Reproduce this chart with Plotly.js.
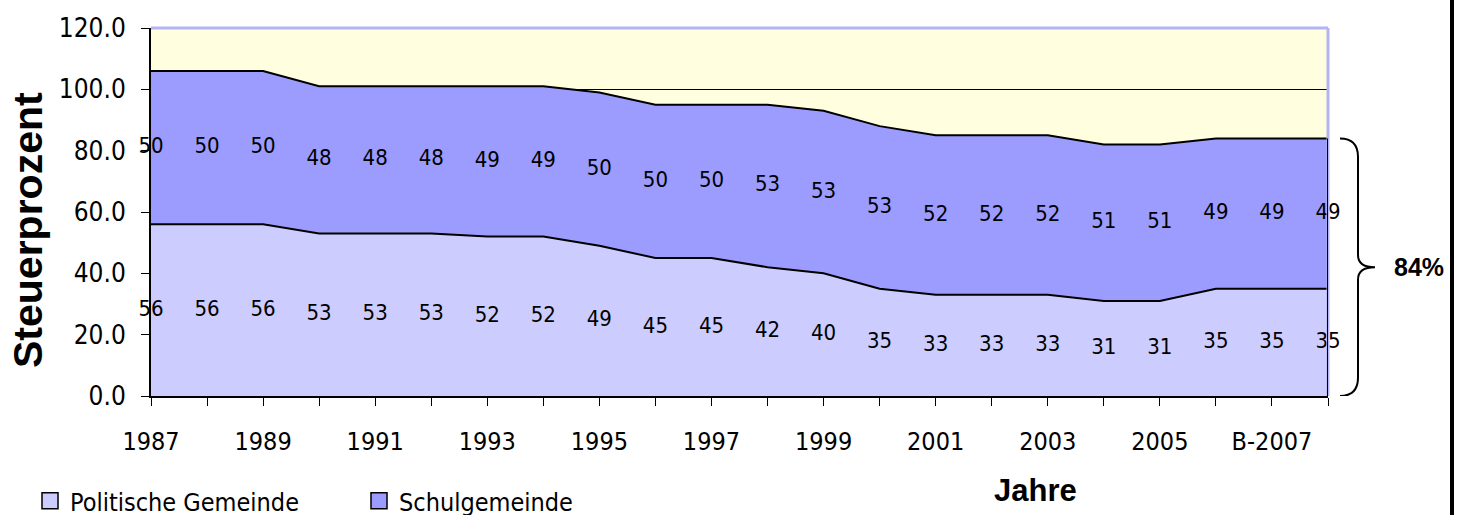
<!DOCTYPE html>
<html>
<head>
<meta charset="utf-8">
<script src="https://cdn.plot.ly/plotly-3.0.1.min.js"></script>
<style>html,body{margin:0;padding:0;background:#fff;}#chart{width:1461px;height:515px;}</style>
</head>
<body>
<div id="chart"></div>
<script>
const categories = ["1987","1988","1989","1990","1991","1992","1993","1994","1995","1996","1997","1998","1999","2000","2001","2002","2003","2004","2005","2006","B-2007","B-2008"];
const tickLabels = ["1987","","1989","","1991","","1993","","1995","","1997","","1999","","2001","","2003","","2005","","B-2007",""];
const politischeGemeinde = [56,56,56,53,53,53,52,52,49,45,45,42,40,35,33,33,33,31,31,35,35,35];
const schulgemeinde = [50,50,50,48,48,48,49,49,50,50,50,53,53,53,52,52,52,51,51,49,49,49];

const NARROW = '"Liberation Sans Narrow", "Arial Narrow", "DejaVu Sans Condensed", sans-serif';
const BOLD = '"Liberation Sans", Arial, sans-serif';

const totals = politischeGemeinde.map((v,i)=>v+schulgemeinde[i]);
const midPol = politischeGemeinde.map(v=>v/2);
const midSchul = politischeGemeinde.map((v,i)=>v+schulgemeinde[i]/2);
const lastIdx = categories.length-1;
const lastTotal = totals[lastIdx];
const COL_POL = '#CCCCFF', COL_SCHUL = '#9C9CFF';

const traces = [
  {x:categories, y:politischeGemeinde, name:'Politische Gemeinde', type:'scatter', mode:'lines',
   stackgroup:'one', fillcolor:COL_POL, line:{color:'#000', width:2, shape:'linear'}, hoverinfo:'skip', showlegend:false},
  {x:categories, y:schulgemeinde, name:'Schulgemeinde', type:'scatter', mode:'lines',
   stackgroup:'one', fillcolor:COL_SCHUL, line:{color:'#000', width:2, shape:'linear'}, hoverinfo:'skip', showlegend:false},
  {x:categories, y:midPol, text:politischeGemeinde.map(String), mode:'text', type:'scatter',
   textfont:{family:NARROW, size:22, color:'#000'}, textposition:'middle center', showlegend:false, cliponaxis:false, hoverinfo:'skip'},
  {x:categories, y:midSchul, text:schulgemeinde.map(String), mode:'text', type:'scatter',
   textfont:{family:NARROW, size:22, color:'#000'}, textposition:'middle center', showlegend:false, cliponaxis:false, hoverinfo:'skip'},
  {x:[null], y:[null], name:'Politische Gemeinde', type:'scatter', mode:'markers',
   marker:{symbol:'square', size:16, color:COL_POL, line:{color:'#000', width:1.5}}, hoverinfo:'skip'},
  {x:[null], y:[null], name:'Schulgemeinde', type:'scatter', mode:'markers',
   marker:{symbol:'square', size:16, color:COL_SCHUL, line:{color:'#000', width:1.5}}, hoverinfo:'skip'}
];

const px = p => (p-151)/1177;
const py = p => (396-p)/368;
const layout = {
  width:1461, height:515,
  margin:{l:151, r:133, t:28, b:119, pad:0, autoexpand:false},
  paper_bgcolor:'#fff', plot_bgcolor:'#FFFFE0',
  showlegend:true,
  legend:{orientation:'h', x:px(30), xanchor:'left', y:py(478), yanchor:'top',
          font:{family:NARROW, size:25, color:'#000'}, entrywidth:284, entrywidthmode:'pixels',
          bgcolor:'rgba(0,0,0,0)', traceorder:'normal', itemwidth:30, tracegroupgap:0},
  xaxis:{type:'category', range:[0,lastIdx], tickmode:'array', tickvals:categories, ticktext:tickLabels,
         ticks:'outside', ticklen:8, tickcolor:'#000', tickwidth:1, showline:true, linecolor:'#000', linewidth:2,
         showgrid:false, zeroline:false, tickfont:{family:NARROW, size:25, color:'#000'}, ticklabelstandoff:14},
  yaxis:{range:[0,120], dtick:20, tickformat:'.1f', ticks:'outside', ticklen:8, tickcolor:'#000', tickwidth:1,
         showline:true, linecolor:'#000', linewidth:2, showgrid:true, gridcolor:'#000', gridwidth:1, zeroline:false,
         tickfont:{family:NARROW, size:26, color:'#000'}, ticklabelstandoff:10},
  shapes:[
    {type:'line', xref:'paper', yref:'paper', x0:0, x1:1, y0:1, y1:1, line:{color:'#B4B4F4', width:3}},
    {type:'line', xref:'paper', yref:'paper', x0:1, x1:1, y0:0, y1:1, line:{color:'#B4B4F4', width:3}},
    {type:'line', xref:'x', yref:'y', x0:categories[lastIdx], x1:categories[lastIdx], y0:0, y1:lastTotal, line:{color:'#000', width:2}},
    {type:'path', xref:'paper', yref:'y',
     path:`M ${px(1340)},${lastTotal} C ${px(1352)},${lastTotal} ${px(1358)},${lastTotal-2} ${px(1358)},${lastTotal-6} L ${px(1358)},${lastTotal/2+4} C ${px(1358)},${lastTotal/2+1} ${px(1365)},${lastTotal/2} ${px(1375)},${lastTotal/2} C ${px(1365)},${lastTotal/2} ${px(1358)},${lastTotal/2-1} ${px(1358)},${lastTotal/2-4} L ${px(1358)},6 C ${px(1358)},2 ${px(1352)},0 ${px(1340)},0`,
     line:{color:'#000', width:2}},
    {type:'line', xref:'paper', yref:'paper', x0:px(1452), x1:px(1452), y0:-2, y1:2, line:{color:'#000', width:4}}
  ],
  annotations:[
    {text:'<b>Steuerprozent</b>', xref:'paper', yref:'paper', x:px(28), y:py(230), textangle:-90,
     showarrow:false, font:{family:BOLD, size:41, color:'#000'}, xanchor:'center', yanchor:'middle'},
    {text:'<b>Jahre</b>', xref:'paper', yref:'paper', x:px(1035), y:py(490),
     showarrow:false, font:{family:BOLD, size:31, color:'#000'}, xanchor:'center', yanchor:'middle'},
    {text:'<b>'+lastTotal+'%</b>', xref:'paper', yref:'y', x:px(1419), y:lastTotal/2,
     showarrow:false, font:{family:BOLD, size:25, color:'#000'}, xanchor:'center', yanchor:'middle'}
  ]
};
Plotly.newPlot('chart', traces, layout, {staticPlot:true, displayModeBar:false});
</script>
</body>
</html>
